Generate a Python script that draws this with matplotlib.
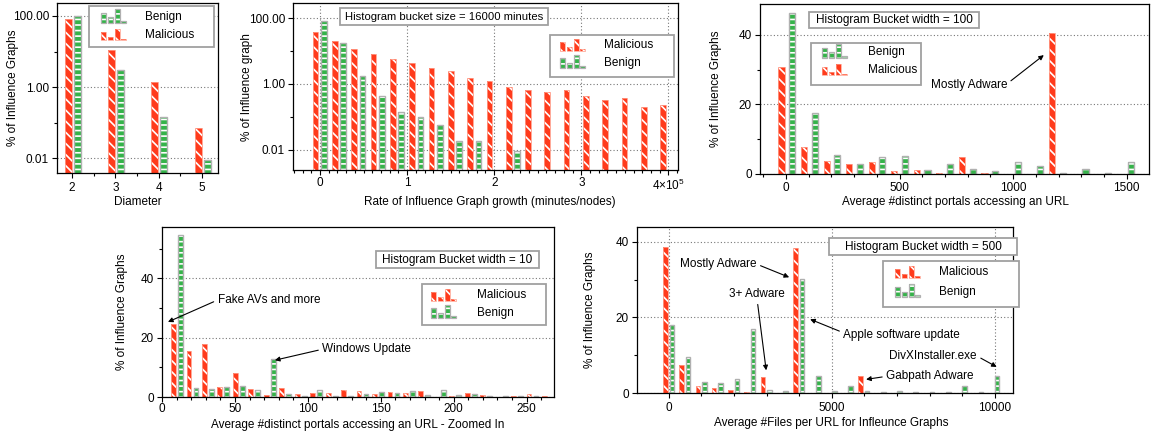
import numpy as np
import matplotlib
matplotlib.use("Agg")
import matplotlib.pyplot as plt
from matplotlib.patches import Rectangle, Patch
from matplotlib.legend_handler import HandlerBase
from matplotlib.transforms import Affine2D
from matplotlib.ticker import FixedLocator, MultipleLocator, NullFormatter, FixedFormatter

# ---------------- data ----------------
diam_values = [2, 3, 4, 5]
diam_malicious = [82, 11, 1.38, 0.07]
diam_benign = [98, 3.0, 0.14, 0.0088]

growth_malicious = [37.5, 20, 11.1, 7.8, 5.8, 4.4, 3.07, 2.4, 1.45, 1.18, 0.81,
                    0.67, 0.58, 0.67, 0.44, 0.32, 0.36, 0.19, 0.22]
growth_benign = [83, 17.3, 1.71, 0.43, 0.14, 0.10, 0.056, 0.018, 0.018, 0, 0.0089,
                 0, 0, 0, 0, 0, 0, 0, 0]

portals_malicious = [30.9, 7.7, 3.7, 2.8, 3.4, 0.86, 1.05, 0.4, 5.0, 0.3, 0, 0, 40.7, 0, 0, 0]
portals_benign = [46.4, 17.5, 5.6, 2.8, 4.8, 5.1, 1.15, 2.8, 1.3, 0.86, 3.4, 2.3, 0.2, 1.3, 0.2, 3.4]

zoom_malicious = [24.6, 15.5, 18.0, 3.3, 8.1, 2.6, 0.8, 3.1, 0.9, 1.5, 1.3, 2.2, 1.9,
                  1.0, 1.7, 1.3, 2.0, 0, 0.2, 1.5, 0.6, 0, 0.2, 0.9, 0.2]
zoom_benign = [54.5, 3.1, 2.6, 3.4, 3.8, 2.5, 12.9, 1.0, 0.45, 2.2, 0.5, 0.5, 1.1,
               1.6, 1.3, 1.9, 0.8, 2.5, 0.8, 0.9, 0.4, 0.3, 0.3, 0.5, 0]

files_malicious = [38.7, 7.3, 1.8, 1.4, 0.7, 0.15, 4.1, 0.1, 38.4, 0, 0, 0, 4.4,
                   0, 0, 0.1, 0, 0, 0, 0, 0]
files_benign = [17.9, 9.5, 2.8, 2.6, 3.7, 17.0, 0.9, 0.5, 30.1, 4.6, 0.5, 1.9, 0.4,
                0.3, 0.5, 0.3, 0.2, 0.2, 1.9, 0.3, 4.4]

LABELS = {"mal": "Malicious", "ben": "Benign"}

# ---------------- style ----------------
W, H = 1151, 436
FS = 8.5
plt.rcParams.update({
    "font.family": ["Liberation Sans", "DejaVu Sans"],
    "font.size": FS,
    "hatch.linewidth": 1.2,
    "mathtext.fontset": "custom",
    "mathtext.rm": "Liberation Sans",
    "mathtext.it": "Liberation Sans:italic",
    "mathtext.bf": "Liberation Sans:bold",
})
RED = "#ff3b1c"
RED_EDGE = "#ff9a86"
GREEN = "#35b34a"
GREEN_EDGE = "#b0b0b0"
FRAME = "#a0a0a0"

fig = plt.figure(figsize=(W / 100, H / 100), dpi=100)
pix = Affine2D().scale(1 / W, -1 / H).translate(0, 1) + fig.transFigure


def make_axes(l, t, r, b):
    ax = fig.add_axes([l / W, 1 - b / H, (r - l) / W, (b - t) / H])
    ax._px = (l, t, r, b)
    for s in ax.spines.values():
        s.set_linewidth(0.9)
    ax.set_axisbelow(True)
    return ax


def style_ticks(ax, xpad):
    ax.tick_params(which="both", direction="out", top=False, right=False,
                   labelsize=FS, width=0.8)
    ax.tick_params(which="major", length=3.5)
    ax.tick_params(which="minor", length=2.2)
    ax.tick_params(axis="y", which="major", pad=2.3)
    ax.tick_params(axis="x", which="major", pad=xpad)


def draw_bars(ax, x, h, w, kind, bottom=0):
    x = np.asarray(x, float)
    h = np.asarray(h, float)
    keep = h > 0
    x, h = x[keep], h[keep]
    if kind == "mal":
        fc, ec, hatch, lw = RED, RED_EDGE, "\\\\\\", 0.6
    else:
        fc, ec, hatch, lw = GREEN, GREEN_EDGE, "---", 1.0
    ax.bar(x, h - bottom, w, bottom=bottom, color=fc, edgecolor="white",
           hatch=hatch, linewidth=0, zorder=2)
    ax.bar(x, h - bottom, w, bottom=bottom, fill=False, edgecolor=ec,
           linewidth=lw, zorder=2.1)


class MiniBars(HandlerBase):
    def __init__(self, kind):
        super().__init__()
        self.kind = kind

    def create_artists(self, legend, orig_handle, xdescent, ydescent, width,
                       height, fontsize, trans):
        if self.kind == "mal":
            fracs = [0.62, 0.25, 0.85, 0.1]
            fc, ec, hatch, lw = RED, RED_EDGE, "\\\\\\", 0.5
        else:
            fracs = [0.75, 0.4, 1.0, 0.15]
            fc, ec, hatch, lw = GREEN, GREEN_EDGE, "---", 0.9
        slot = width / len(fracs)
        bw = slot * 0.74
        arts = []
        for k, f in enumerate(fracs):
            x0 = -xdescent + k * slot
            y0 = -ydescent - 0.1 * height
            hh = f * height * 1.25
            arts.append(Rectangle((x0, y0), bw, hh, facecolor=fc,
                                  edgecolor="white", hatch=hatch, linewidth=0,
                                  transform=trans))
            arts.append(Rectangle((x0, y0), bw, hh, fill=False,
                                  edgecolor=ec, linewidth=lw, transform=trans))
        return arts


def frame(ax, x0, y0, x1, y1):
    ax.add_patch(Rectangle((x0, y0), x1 - x0, y1 - y0, transform=pix,
                           facecolor="white", edgecolor=FRAME, linewidth=1.3,
                           zorder=4, clip_on=False))


def text_box(ax, s, box, size=FS):
    frame(ax, *box)
    ax.text((box[0] + box[2]) / 2, (box[1] + box[3]) / 2 + 0.5, s, transform=pix,
            ha="center", va="center", fontsize=size, zorder=5, clip_on=False)


def add_legend(ax, order, x_px, top_px, box, spacing=0.42, textpad=1.4):
    handles, hmap = [], {}
    for kind in order:
        p = Patch(label=LABELS[kind])
        handles.append(p)
        hmap[p] = MiniBars(kind)
    frame(ax, *box)
    leg = ax.legend(handles=handles, loc="upper left",
                    bbox_to_anchor=(x_px / W, 1 - top_px / H),
                    bbox_transform=fig.transFigure, frameon=False, borderpad=0,
                    borderaxespad=0, handlelength=2.3, handleheight=1.0,
                    handletextpad=textpad, labelspacing=spacing,
                    handler_map=hmap, fontsize=FS)
    leg.set_zorder(6)


def set_labels(ax, xlabel, xc, xcy, ylabel, ycx):
    l, t, r, b = ax._px
    ax.set_xlabel(xlabel, fontsize=FS)
    ax.set_ylabel(ylabel, fontsize=FS)
    ax.xaxis.set_label_coords((xc - l) / (r - l), (b - (xcy - 6)) / (b - t))
    ax.yaxis.set_label_coords((ycx + 6.5 - l) / (r - l), 0.5)


def note(ax, s, xy, xytext, relpos, ha="center"):
    ax.annotate(s, xy=xy, xytext=xytext, ha=ha, va="center", fontsize=FS,
                zorder=5,
                arrowprops=dict(arrowstyle="-|>", color="black", lw=0.8,
                                mutation_scale=7, shrinkA=1, shrinkB=0,
                                relpos=relpos))


grid_kw = dict(color="#777777", linestyle=(0, (1, 2)), linewidth=0.8)

# ---------------- panel 1: diameter ----------------
ax1 = make_axes(57, 3, 218, 173)
ax1.set_yscale("log")
d = np.asarray(diam_values, float)
draw_bars(ax1, d - 0.09, diam_malicious, 0.16, "mal", bottom=1e-4)
draw_bars(ax1, d + 0.12, diam_benign, 0.16, "ben", bottom=1e-4)
ax1.set_xlim(1.65, 5.37)
ax1.set_ylim(0.0038, 232)
ax1.xaxis.set_major_locator(FixedLocator(diam_values))
ax1.xaxis.set_minor_locator(FixedLocator([2.5, 3.5, 4.5]))
ax1.yaxis.set_major_locator(FixedLocator([0.01, 1, 100]))
ax1.yaxis.set_major_formatter(FixedFormatter(["0.01", "1.00", "100.00"]))
ax1.yaxis.set_minor_locator(FixedLocator([0.1, 10]))
ax1.yaxis.set_minor_formatter(NullFormatter())
ax1.yaxis.grid(True, which="major", **grid_kw)
style_ticks(ax1, 3.2)
set_labels(ax1, "Diameter", 137.5, 201.7, "% of Influence Graphs", 13)
add_legend(ax1, ["ben", "mal"], 101, 11, (89, 6, 214, 47))

# ---------------- panel 2: growth rate ----------------
ax2 = make_axes(293, 3, 678, 170.5)
ax2.set_yscale("log")
gc = np.arange(len(growth_malicious)) * 22160.0
draw_bars(ax2, gc - 5000, growth_malicious, 6500, "mal", bottom=1e-5)
draw_bars(ax2, gc + 4500, growth_benign, 6500, "ben", bottom=1e-5)
ax2.set_xlim(-31000, 411000)
ax2.set_ylim(0.0023, 287)
ax2.xaxis.set_major_locator(FixedLocator([0, 1e5, 2e5, 3e5, 4e5]))
ax2.xaxis.set_major_formatter(FixedFormatter(["0", "1", "2", "3", r"4×10$^{5}$"]))
ax2.xaxis.set_minor_locator(MultipleLocator(10000))
ax2.yaxis.set_major_locator(FixedLocator([0.01, 1, 100]))
ax2.yaxis.set_major_formatter(FixedFormatter(["0.01", "1.00", "100.00"]))
ax2.yaxis.set_minor_locator(FixedLocator([0.1, 10]))
ax2.yaxis.set_minor_formatter(NullFormatter())
ax2.grid(True, which="major", **grid_kw)
style_ticks(ax2, 1.4)
set_labels(ax2, "Rate of Influence Graph growth (minutes/nodes)", 490, 201.7,
           "% of Influence graph", 246.7)
text_box(ax2, "Histogram bucket size = 16000 minutes", (340, 8, 548, 25), size=8.1)
add_legend(ax2, ["mal", "ben"], 560, 39, (550, 35, 674, 77))

# ---------------- panel 3: portals ----------------
ax3 = make_axes(760, 4, 1149, 174)
pc = np.arange(len(portals_malicious)) * 99.3 + 4
draw_bars(ax3, pc - 23.5, portals_malicious, 27, "mal")
draw_bars(ax3, pc + 23.5, portals_benign, 27, "ben")
ax3.set_xlim(-114, 1598)
ax3.set_ylim(0, 48.9)
ax3.xaxis.set_major_locator(FixedLocator([0, 500, 1000, 1500]))
ax3.xaxis.set_minor_locator(MultipleLocator(100))
ax3.yaxis.set_major_locator(FixedLocator([0, 20, 40]))
ax3.yaxis.set_minor_locator(FixedLocator([10, 30]))
ax3.yaxis.grid(True, which="major", **grid_kw)
style_ticks(ax3, 2.5)
set_labels(ax3, "Average #distinct portals accessing an URL", 955, 201.7,
           "% of Influence Graphs", 716)
text_box(ax3, "Histogram Bucket width = 100", (809, 12, 979, 28))
add_legend(ax3, ["ben", "mal"], 822, 46, (811, 43, 921, 85), textpad=1.6)
note(ax3, "Mostly Adware", (1135, 34.2), (805, 25.6), (1.0, 0.6))

# ---------------- panel 4: portals zoomed ----------------
ax4 = make_axes(162, 227, 554, 397)
zc = np.arange(len(zoom_malicious)) * 10.6
draw_bars(ax4, zc + 7.9, zoom_malicious, 3.3, "mal")
draw_bars(ax4, zc + 12.7, zoom_benign, 3.3, "ben")
ax4.set_xlim(0, 268.8)
ax4.set_ylim(0, 57.3)
ax4.xaxis.set_major_locator(MultipleLocator(50))
ax4.xaxis.set_minor_locator(MultipleLocator(10))
ax4.yaxis.set_major_locator(FixedLocator([0, 20, 40]))
ax4.yaxis.set_minor_locator(FixedLocator([10, 30, 50]))
ax4.yaxis.grid(True, which="major", **grid_kw)
style_ticks(ax4, 1.0)
set_labels(ax4, "Average #distinct portals accessing an URL - Zoomed In", 358, 425,
           "% of Influence Graphs", 121.7)
text_box(ax4, "Histogram Bucket width = 10", (376, 251, 539, 268))
add_legend(ax4, ["mal", "ben"], 431, 289, (422, 284, 546, 325), textpad=1.6)
note(ax4, "Fake AVs and more", (4.1, 25.3), (38.2, 32.7), (0.0, 0.5), ha="left")
note(ax4, "Windows Update", (77.4, 12.4), (110, 16.1), (0.0, 0.5), ha="left")

# ---------------- panel 5: files per URL ----------------
ax5 = make_axes(637, 227, 1013, 393)
fc_ = np.arange(len(files_malicious)) * 498.0
draw_bars(ax5, fc_ - 100, files_malicious, 140, "mal")
draw_bars(ax5, fc_ + 103, files_benign, 140, "ben")
ax5.set_xlim(-967, 10551)
ax5.set_ylim(0, 43.9)
ax5.xaxis.set_major_locator(FixedLocator([0, 5000, 10000]))
ax5.xaxis.set_minor_locator(MultipleLocator(1000))
ax5.yaxis.set_major_locator(FixedLocator([0, 20, 40]))
ax5.yaxis.set_minor_locator(FixedLocator([10, 30]))
ax5.grid(True, which="major", **grid_kw)
style_ticks(ax5, 3.0)
set_labels(ax5, "Average #Files per URL for Infleunce Graphs", 831, 423,
           "% of Influence Graphs", 590)
text_box(ax5, "Histogram Bucket width = 500", (829, 238, 1017, 255))
add_legend(ax5, ["mal", "ben"], 895, 266, (883, 261, 1019, 307), spacing=0.58,
           textpad=1.45)
note(ax5, "Mostly Adware", (3694, 30.6), (1521, 34.1), (1.0, 0.5))
note(ax5, "3+ Adware", (2990, 6.0), (2715, 26.1), (0.5, 0.0))
note(ax5, "Apple software update", (4337, 19.5), (7144, 15.3), (0.0, 0.7))
note(ax5, "DivXInstaller.exe", (10052, 6.9), (8102, 9.8), (1.0, 0.5))
note(ax5, "Gabpath Adware", (6051, 3.6), (8010, 4.4), (0.0, 0.5))

fig.savefig("out.png", dpi=100)
